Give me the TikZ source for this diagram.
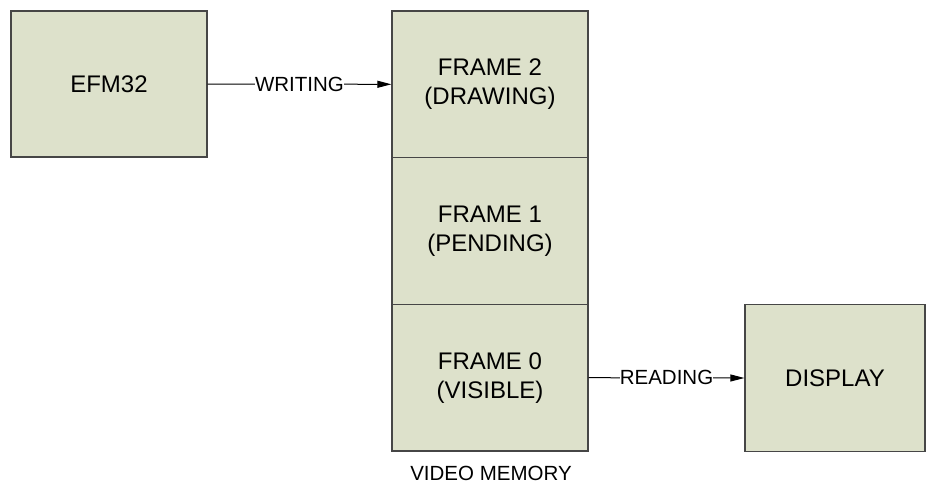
\documentclass[tikz,border=0pt]{standalone}
\usepackage{fontspec}
\setmainfont{Liberation Sans}
\usetikzlibrary{arrows.meta}
\definecolor{boxfill}{RGB}{221,225,203}
\definecolor{boxline}{RGB}{70,70,70}
\begin{document}
\begin{tikzpicture}[x=1pt,y=-1pt,
  blk/.style={draw=boxline,line width=1.3pt,fill=boxfill,inner sep=0pt,
    font=\fontsize{24}{29}\selectfont,align=center},
  conn/.style={draw=black,line width=1pt,-{Triangle[length=14pt,width=7pt]}},
  lbl/.style={fill=white,inner sep=0pt,font=\fontsize{20.5}{24}\selectfont}]
\useasboundingbox (0,0) rectangle (927,483);
\node[blk,minimum width=196pt,minimum height=146pt] (efm) at (109,84) {EFM32};
\node[blk,minimum width=196pt,minimum height=146.7pt] (f2) at (490,84.3) {FRAME 2\\(DRAWING)};
\node[blk,minimum width=196pt,minimum height=146.7pt] (f1) at (490,231) {FRAME 1\\(PENDING)};
\node[blk,minimum width=196pt,minimum height=146.7pt] (f0) at (490,377.7) {FRAME 0\\(VISIBLE)};
\node[blk,minimum width=180pt,minimum height=147pt] (disp) at (835,378) {DISPLAY};
\node[font=\fontsize{20.5}{24}\selectfont,anchor=base,inner sep=0pt] (vm) at (491,480.5) {VIDEO MEMORY};
\draw[conn] (efm.east) -- node[lbl] {WRITING} (f2.west);
\draw[conn] (f0.east) -- node[lbl] {READING} (disp.west);
\end{tikzpicture}
\end{document}
